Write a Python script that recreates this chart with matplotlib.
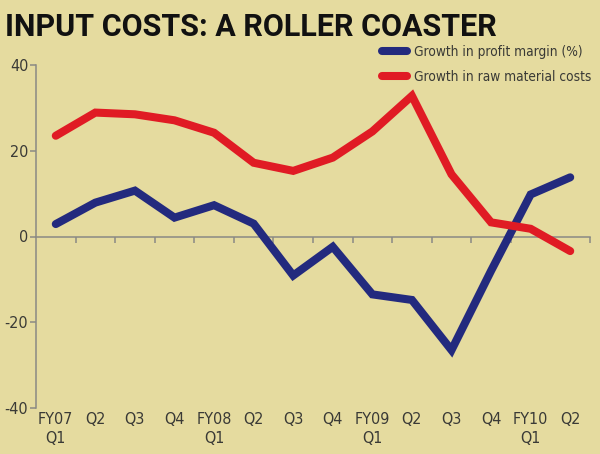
import numpy as np
import matplotlib
matplotlib.use("Agg")
import matplotlib.pyplot as plt
from matplotlib import font_manager as fm

categories = ["FY07\nQ1", "Q2", "Q3", "Q4", "FY08\nQ1", "Q2", "Q3", "Q4",
              "FY09\nQ1", "Q2", "Q3", "Q4", "FY10\nQ1", "Q2"]
profit_margin = [2.9, 7.9, 10.7, 4.4, 7.3, 3.0, -9.1, -2.4, -13.5, -14.8, -26.5, -8.0, 9.8, 13.8]
raw_material = [23.5, 28.9, 28.5, 27.1, 24.2, 17.2, 15.3, 18.4, 24.5, 32.8, 14.5, 3.3, 1.8, -3.4]
y_ticks = [-40, -20, 0, 20, 40]

BG = "#e5db9f"
GRAY = "#8a8a84"
TXT = "#3a3a36"
BLUE = "#232a7e"
RED = "#e01b24"

# find a condensed / narrow regular font if one is installed
cond = None
for f in fm.fontManager.ttflist:
    fn = f.fname.lower()
    if ("condensed" in fn or "narrow" in fn) and "bold" not in fn and "oblique" not in fn \
            and "italic" not in fn and "light" not in fn:
        cond = f.fname
        break
if cond:
    TICKFONT = fm.FontProperties(fname=cond, size=11.5)
    LEGFONT = fm.FontProperties(fname=cond, size=9.8)
else:
    TICKFONT = fm.FontProperties(family="Roboto", size=10)
    LEGFONT = fm.FontProperties(family="Roboto", size=9)

fig = plt.figure(figsize=(6.0, 4.54), dpi=100, facecolor=BG)
ax = fig.add_axes([36/600, 1-408/454, (590-36)/600, (408-65)/454])
ax.set_facecolor(BG)

x = np.arange(len(categories))
ax.plot(x, profit_margin, color=BLUE, lw=5.8, solid_capstyle="round",
        solid_joinstyle="miter", label="Growth in profit margin (%)", zorder=3)
ax.plot(x, raw_material, color=RED, lw=5.8, solid_capstyle="round",
        solid_joinstyle="miter", label="Growth in raw material costs", zorder=3)

ax.set_xlim(-0.5, len(categories) - 0.5)
ax.set_ylim(-40, 40)

for s in ["top", "right"]:
    ax.spines[s].set_visible(False)
ax.spines["left"].set_color(GRAY)
ax.spines["left"].set_linewidth(1.1)
ax.spines["bottom"].set_position(("data", 0))
ax.spines["bottom"].set_color(GRAY)
ax.spines["bottom"].set_linewidth(1.1)

ax.set_yticks(y_ticks)
ax.set_yticklabels([str(v) for v in y_ticks], fontproperties=TICKFONT, color=TXT)
ax.tick_params(axis="y", direction="out", length=4, width=1.1, color=GRAY, pad=1.5)

ax.set_xticks(np.arange(0.5, len(categories), 1))
ax.tick_params(axis="x", direction="out", length=4, width=1.1, color=GRAY, labelbottom=False)

sec = ax.secondary_xaxis(0.0)
sec.set_xticks(x)
sec.set_xticklabels(categories, fontproperties=TICKFONT, color=TXT, linespacing=1.3)
sec.tick_params(axis="x", length=0, pad=3)
sec.spines["bottom"].set_visible(False)

fig.text(5/600, 1-36/454, "INPUT COSTS: A ROLLER COASTER", fontsize=22,
         fontweight="bold", family=["Roboto", "DejaVu Sans"], color="#111111",
         ha="left", va="baseline")

leg = ax.legend(loc="upper left", bbox_to_anchor=(382/600, 1-45/454),
                bbox_transform=fig.transFigure, frameon=False,
                prop=LEGFONT, handlelength=1.85,
                handletextpad=0.5, labelspacing=0.8, borderpad=0, borderaxespad=0)
for t in leg.get_texts():
    t.set_color(TXT)

fig.savefig("out.png", dpi=100, facecolor=BG)
